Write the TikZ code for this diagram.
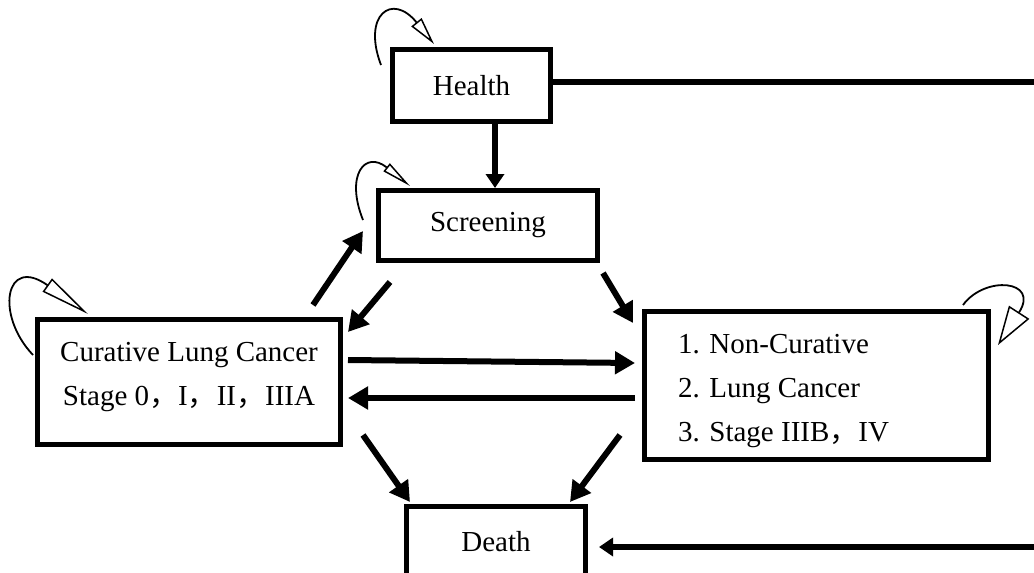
\documentclass[tikz,border=0pt]{standalone}
\usepackage{fontspec}
\setmainfont{Liberation Serif}
\newfontfamily\cjk{Noto Sans CJK SC}
\usetikzlibrary{arrows.meta,calc}
\newcommand{\fc}{{\cjk ，}}
\begin{document}
\begin{tikzpicture}[x=1pt,y=-1pt,
  box/.style={draw, line width=5pt, inner sep=0pt, font=\fontsize{29}{44}\selectfont},
  thickarr/.style={line width=6pt, -{Triangle[length=20pt,width=22pt]}},
  midarr/.style={line width=6pt, -{Triangle[length=14pt,width=18pt]}},
  looparr/.style={line width=1.8pt}
]
\fill[white] (0,0) rectangle (1034,573);
\useasboundingbox (0,0) rectangle (1034,573);
\clip (0,0) rectangle (1034,573);

% boxes
\node[box, minimum width=158pt, minimum height=72pt] (hlt) at (471.5,85.5) {Health};
\node[box, minimum width=219pt, minimum height=70pt] (scr) at (488,225.5) {Screening};
\node[box, minimum width=303pt, minimum height=125pt] (cur) at (189,382)
  {\raisebox{7pt}[\height][\depth]{\begin{tabular}{@{}c@{}}Curative Lung Cancer\\Stage 0\fc I\fc II\fc IIIA\end{tabular}}};
\node[box, minimum width=344pt, minimum height=148pt] (rgt) at (816.5,385.5)
  {\raisebox{-3pt}[\height][\depth]{\makebox[277pt][l]{\begin{tabular}{@{}l@{}}1. Non-Curative\\2. Lung Cancer\\3. Stage IIIB\fc IV\end{tabular}}}};
\node[box, minimum width=179pt, minimum height=71pt] (dth) at (496,542) {Death};

% thick transitions
\draw[thickarr] ($(cur.north east)+(-30,-12)$) -- ($(scr.south west)+(-13,-32)$);
\draw[thickarr] ($(scr.south west)+(14,19)$) -- ($(cur.north east)+(5,15)$);
\draw[thickarr] ($(scr.south east)+(3,10)$) -- ($(rgt.north west)+(-9,14)$);
\draw[thickarr] ($(cur.east)+(5,-22)$) -- ($(rgt.west)+(-7,-22.5)$);
\draw[thickarr] ($(rgt.west)+(-7,12.5)$) -- ($(cur.east)+(5,16)$);
\draw[thickarr] ($(cur.south east)+(20,-12)$) -- ($(dth.north west)+(6,-2)$);
\draw[thickarr] ($(rgt.south west)+(-22,-27)$) -- ($(dth.north east)+(-18,-2)$);

% health transitions
\draw[midarr] ($(hlt.south)+(23.5,0)$) -- ($(scr.north)+(7,0)$);
\draw[midarr] ($(hlt.east)+(0,-3.5)$) -- (1060,82) -- (1060,547) -- ($(dth.east)+(11,5)$);

% self loops
\draw[looparr, -{Triangle[open,length=28pt,width=13pt,line width=1.5pt]}]
  ($(hlt.north west)+(-9,18)$) .. controls ($(hlt.north west)+(-28,-32)$) and ($(hlt.north west)+(2,-55)$) .. ($(hlt.north west)+(44,-3)$);
\draw[looparr, -{Triangle[open,length=30pt,width=10pt,line width=1.5pt]}]
  ($(scr.north west)+(-13,32)$) .. controls ($(scr.north west)+(-31,-13)$) and ($(scr.north west)+(-11,-38)$) .. ($(scr.north west)+(34,-2)$);
\draw[looparr, -{Triangle[open,length=50pt,width=16pt,line width=1.5pt]}]
  ($(cur.north west)+(-2,38)$) .. controls ($(cur.north west)+(-40,-2)$) and ($(cur.north west)+(-30,-62)$) .. ($(cur.north west)+(53,-3)$);
\draw[looparr, -{Triangle[open,length=39pt,width=24pt,line width=1.5pt]}]
  ($(rgt.north east)+(-28,-4)$) .. controls ($(rgt.north east)+(-6,-34)$) and ($(rgt.north east)+(49,-29)$) .. ($(rgt.north east)+(7,36)$);
\end{tikzpicture}
\end{document}
